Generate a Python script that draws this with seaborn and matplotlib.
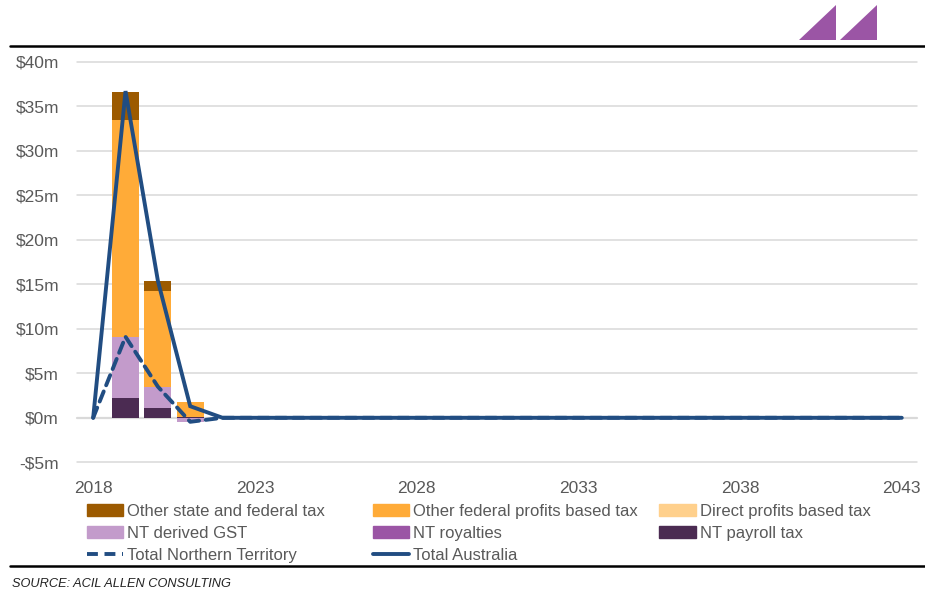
import matplotlib
matplotlib.use("Agg")
import matplotlib.pyplot as plt
from matplotlib.patches import Polygon, Patch
from matplotlib.lines import Line2D
import seaborn as sns
import numpy as np
import pandas as pd

# ---------------- data ----------------
years = [2018, 2019, 2020, 2021, 2022, 2023, 2024, 2025, 2026, 2027, 2028, 2029, 2030,
         2031, 2032, 2033, 2034, 2035, 2036, 2037, 2038, 2039, 2040, 2041, 2042, 2043]

bar_years = [2019, 2020, 2021]
other_state_federal = [3.1, 1.15, 0.0]
other_federal_profits = [24.4, 10.75, 1.7]
direct_profits = [0.0, 0.0, 0.0]
nt_gst = [6.9, 2.35, -0.5]
nt_royalties = [0.0, 0.0, 0.0]
nt_payroll = [2.2, 1.15, 0.05]

total_nt = [0, 9.1, 3.5, -0.45, 0, 0, 0, 0, 0, 0, 0, 0, 0,
            0, 0, 0, 0, 0, 0, 0, 0, 0, 0, 0, 0, 0]
total_aus = [0, 36.7, 15.4, 1.3, 0, 0, 0, 0, 0, 0, 0, 0, 0,
             0, 0, 0, 0, 0, 0, 0, 0, 0, 0, 0, 0, 0]

x_ticks = [2018, 2023, 2028, 2033, 2038, 2043]
y_ticks = [-5, 0, 5, 10, 15, 20, 25, 30, 35, 40]
y_tick_labels = ["-$5m", "$0m", "$5m", "$10m", "$15m", "$20m", "$25m", "$30m", "$35m", "$40m"]

# ---------------- style ----------------
sns.set_theme(style="white")
FONT = ["Liberation Sans", "DejaVu Sans"]
plt.rcParams["font.family"] = FONT

c_osf = "#9C5A00"
c_ofp = "#FFAB38"
c_dpt = "#FFD08C"
c_gst = "#C39BCB"
c_roy = "#9B55A5"
c_pay = "#4B2B52"
c_line = "#214D82"
c_text = "#595959"
LW = 2.8
DASH = (0, (2.8, 1.7))

fig = plt.figure(figsize=(9.25, 5.93), dpi=100)
ax = fig.add_axes([77 / 925, 1 - 462.3 / 593, (917 - 77) / 925, (462.3 - 61.7) / 593])

# stacked bars
series = [
    (nt_payroll, c_pay),
    (nt_royalties, c_roy),
    (nt_gst, c_gst),
    (direct_profits, c_dpt),
    (other_federal_profits, c_ofp),
    (other_state_federal, c_osf),
]
pos_bottom = np.zeros(len(bar_years))
neg_bottom = np.zeros(len(bar_years))
bw = 0.83
for vals, col in series:
    v = np.array(vals, dtype=float)
    pos = np.where(v > 0, v, 0)
    neg = np.where(v < 0, v, 0)
    ax.bar(bar_years, pos, bottom=pos_bottom, width=bw, color=col, linewidth=0, zorder=2)
    ax.bar(bar_years, neg, bottom=neg_bottom, width=bw, color=col, linewidth=0, zorder=2)
    pos_bottom += pos
    neg_bottom += neg

df = pd.DataFrame({"year": years, "nt": total_nt, "aus": total_aus})
sns.lineplot(data=df, x="year", y="nt", ax=ax, color=c_line, lw=LW,
             linestyle=DASH, zorder=3, solid_capstyle="round",
             dash_capstyle="round")
sns.lineplot(data=df, x="year", y="aus", ax=ax, color=c_line, lw=LW,
             zorder=4, solid_capstyle="round", solid_joinstyle="miter")

ax.set_xlim(2017.5, 2043.47)
ax.set_ylim(-5, 40)
ax.set_xticks(x_ticks)
ax.set_xticklabels([str(t) for t in x_ticks])
ax.set_yticks(y_ticks)
ax.set_yticklabels(y_tick_labels)
ax.set_xlabel("")
ax.set_ylabel("")
for s in ax.spines.values():
    s.set_visible(False)
for yv in y_ticks:
    ax.axhline(yv, color="#D9D9D9", lw=1.1 if yv != 0 else 1.6, zorder=1, clip_on=False)
ax.tick_params(axis="both", length=0, labelsize=12.5, colors=c_text, labelcolor=c_text)
ax.tick_params(axis="y", pad=13)
ax.tick_params(axis="x", pad=13.2)

# legend (three equal-width columns)
h_osf = Patch(color=c_osf, label="Other state and federal tax")
h_ofp = Patch(color=c_ofp, label="Other federal profits based tax")
h_dpt = Patch(color=c_dpt, label="Direct profits based tax")
h_gst = Patch(color=c_gst, label="NT derived GST")
h_roy = Patch(color=c_roy, label="NT royalties")
h_pay = Patch(color=c_pay, label="NT payroll tax")
h_nt = Line2D([], [], color=c_line, lw=LW, linestyle=DASH, label="Total Northern Territory")
h_aus = Line2D([], [], color=c_line, lw=LW, label="Total Australia")

cols = [([h_osf, h_gst, h_nt], 86.5), ([h_ofp, h_roy, h_aus], 372.5), ([h_dpt, h_pay], 659)]
for handles, xpix in cols:
    leg = fig.legend(handles=handles, loc="upper left",
                     bbox_to_anchor=(xpix / 925, 1 - 504 / 593),
                     frameon=False, fontsize=12, handlelength=2.2, handleheight=0.68,
                     handletextpad=0.25, labelspacing=0.41, borderpad=0, borderaxespad=0)
    for t in leg.get_texts():
        t.set_color(c_text)

# decorative rules, logo and source
fig.add_artist(Line2D([10 / 925, 1], [1 - 46 / 593] * 2, color="black", lw=1.8,
                      transform=fig.transFigure))
fig.add_artist(Line2D([10 / 925, 1], [1 - 566 / 593] * 2, color="black", lw=1.8,
                      transform=fig.transFigure))
for x0 in (799, 840):
    tri = Polygon([[x0 / 925, 1 - 40 / 593], [(x0 + 37) / 925, 1 - 40 / 593],
                   [(x0 + 37) / 925, 1 - 5 / 593]], closed=True,
                  transform=fig.transFigure, color=c_roy, lw=0)
    fig.add_artist(tri)
fig.text(12 / 925, 1 - 584 / 593, "SOURCE: ACIL ALLEN CONSULTING", fontsize=9.2,
         style="italic", color="#222222", va="center", ha="left")

fig.savefig("out.png", dpi=100)
